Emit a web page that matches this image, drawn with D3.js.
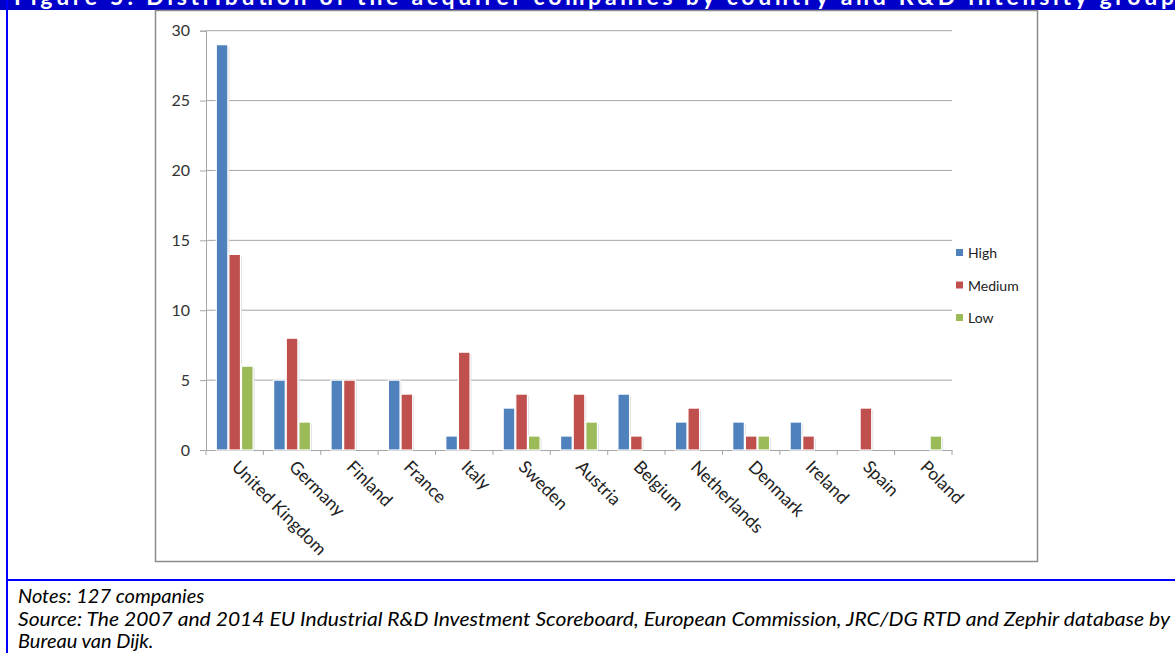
<!DOCTYPE html>
<html><head><meta charset="utf-8">
<script src="https://cdn.jsdelivr.net/npm/d3@7"></script>
<style>body{margin:0;background:#fff;}svg{display:block;}</style>
</head><body>
<script>
const categories = ["United Kingdom","Germany","Finland","France","Italy","Sweden","Austria","Belgium","Netherlands","Denmark","Ireland","Spain","Poland"];
const seriesNames = ["High","Medium","Low"];
const highValues   = [29,5,5,5,1,3,1,4,2,2,2,0,0];
const mediumValues = [14,8,5,4,7,4,4,1,3,1,1,3,0];
const lowValues    = [6,2,0,0,0,1,2,0,0,1,0,0,1];
const yTicks = [0,5,10,15,20,25,30];
const colors = ["#4F81BD","#C0504D","#9BBB59"];
const titleText = "Figure 5: Distribution of the acquirer companies by country and R&D intensity group";
const noteLines = ["Notes: 127 companies",
  "Source: The 2007 and 2014 EU Industrial R&D Investment Scoreboard, European Commission, JRC/DG RTD and Zephir database by",
  "Bureau van Dijk."];

const W = 1175, H = 653;
const svg = d3.select("body").append("svg").attr("width", W).attr("height", H);
const font = "Lato, 'Open Sans', sans-serif";

// title band
svg.append("rect").attr("x",0).attr("y",0).attr("width",W).attr("height",10).attr("fill","#0000C8");
svg.append("clipPath").attr("id","tclip").append("rect").attr("x",0).attr("y",0).attr("width",W).attr("height",10);
svg.append("text").attr("clip-path","url(#tclip)").attr("x",14).attr("y",5)
  .attr("fill","#fff").attr("font-family",font).attr("font-weight","bold").attr("font-size",23)
  .attr("textLength",1160).attr("lengthAdjust","spacing").text(titleText);

// blue borders
svg.append("line").attr("x1",7).attr("x2",7).attr("y1",0).attr("y2",H).attr("stroke","#0000FF").attr("stroke-width",2);
svg.append("line").attr("x1",7).attr("x2",W).attr("y1",580).attr("y2",580).attr("stroke","#0000FF").attr("stroke-width",2);

// chart frame
svg.append("rect").attr("x",155.5).attr("y",10.5).attr("width",882).attr("height",551)
  .attr("fill","#fff").attr("stroke","#8c8c8c").attr("stroke-width",1.5);

const x0 = 206, x1 = 952, yTop = 30.7, yBase = 450;
const x = d3.scaleBand().domain(categories).range([x0,x1]).paddingInner(0).paddingOuter(0);
const y = d3.scaleLinear().domain([0,30]).range([yBase,yTop]);
const xs = d3.scaleBand().domain(seriesNames).range([0, x.bandwidth()*0.66]).padding(0.0);

// gridlines
svg.append("g").selectAll("line").data(yTicks.filter(d=>d>0)).join("line")
  .attr("x1",x0).attr("x2",x1).attr("y1",d=>y(d)).attr("y2",d=>y(d))
  .attr("stroke","#a6a6a6").attr("stroke-width",1);

// y axis
const yAxis = svg.append("g").attr("transform",`translate(${x0},0)`)
  .call(d3.axisLeft(y).tickValues(yTicks).tickSize(6).tickPadding(10));
yAxis.select(".domain").attr("stroke","#a6a6a6");
yAxis.selectAll(".tick line").attr("stroke","#a6a6a6");
yAxis.selectAll("text").attr("font-family",font).attr("font-size",16).attr("fill","#333");

// x axis
const xAxis = svg.append("g").attr("transform",`translate(0,${yBase})`)
  .call(d3.axisBottom(x).tickSize(0).tickFormat(""));
xAxis.select(".domain").attr("stroke","#a6a6a6");
svg.append("g").selectAll("line").data(d3.range(categories.length+1)).join("line")
  .attr("x1",i=>x0+i*x.step()).attr("x2",i=>x0+i*x.step())
  .attr("y1",yBase).attr("y2",yBase+5).attr("stroke","#a6a6a6");

// bars
const series = [highValues, mediumValues, lowValues];
const groupOff = x.bandwidth()*0.17;
const gBars = svg.append("g");
series.forEach((vals, si) => {
  const data = categories.map((c,i)=>({c, v: vals[i]})).filter(d=>d.v>0);
  gBars.append("g").selectAll("rect").data(data).join("rect")
    .attr("x", d=>x(d.c)+groupOff+xs(seriesNames[si])+2)
    .attr("y", d=>y(d.v)+2)
    .attr("width", xs.bandwidth()-1)
    .attr("height", d=>yBase-y(d.v)-2)
    .attr("fill","#d9d9d9").attr("opacity",0.8);
  gBars.append("g").selectAll("rect").data(data).join("rect")
    .attr("x", d=>x(d.c)+groupOff+xs(seriesNames[si])+0.5)
    .attr("y", d=>y(d.v))
    .attr("width", xs.bandwidth()-1)
    .attr("height", d=>yBase-y(d.v))
    .attr("fill",colors[si]).attr("stroke","#fff").attr("stroke-width",1.2);
});

// x labels
svg.append("g").selectAll("text").data(categories).join("text")
  .attr("transform", d=>`translate(${x(d)+x.bandwidth()/2-4},${yBase+18}) rotate(45)`)
  .attr("text-anchor","start").attr("font-family",font).attr("font-size",17.5).attr("fill","#222")
  .text(d=>d);

// legend
const lg = svg.append("g");
seriesNames.forEach((n,i)=>{
  const yy = 253 + i*32.5;
  lg.append("rect").attr("x",956).attr("y",yy-4).attr("width",7).attr("height",7).attr("fill",colors[i]);
  lg.append("text").attr("x",968).attr("y",yy+5).attr("font-family",font).attr("font-size",14).attr("fill","#222").text(n);
});

// notes
const ny = [603, 626, 648];
noteLines.forEach((t,i)=>{
  const tx = svg.append("text").attr("x",18).attr("y",ny[i]).attr("font-family",font)
    .attr("font-style","italic").attr("font-size",20).attr("fill","#000").text(t);
  if (i===1) tx.attr("textLength",1152).attr("lengthAdjust","spacingAndGlyphs");
});
</script>
</body></html>
